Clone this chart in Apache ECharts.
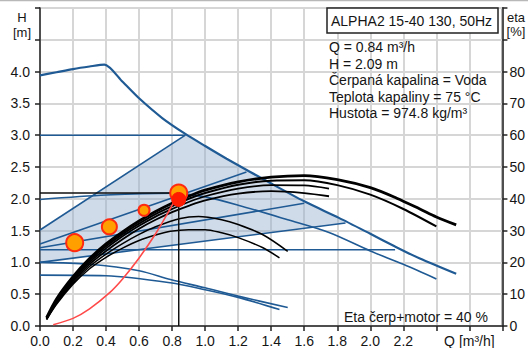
<!DOCTYPE html>
<html><head><meta charset="utf-8">
<style>html,body{margin:0;padding:0;background:#fff;overflow:hidden}#c{width:528px;height:348px}</style>
<script src="https://cdn.jsdelivr.net/npm/echarts@6/dist/echarts.min.js"></script>
</head><body><div id="c"></div>
<script>
// ---------- tick labels ----------
const xTickLabels = ['0.0','0.2','0.4','0.6','0.8','1.0','1.2','1.4','1.6','1.8','2.0','2.2','','Q [m³/h]',''];
const hTickLabels = ['0.0','0.5','1.0','1.5','2.0','2.5','3.0','3.5','4.0','',''];
const etaTickLabels = ['0','10','20','30','40','50','60','70','80','',''];

// ---------- texts ----------
const pumpTitle = 'ALPHA2 15-40 130, 50Hz';
const infoLines = ['Q = 0.84 m³/h','H = 2.09 m','Čerpaná kapalina = Voda','Teplota kapaliny = 75 °C','Hustota = 974.8 kg/m³'];
const etaNote = 'Eta čerp+motor = 40 %';

// ---------- pump curves (Q m3/h, H m) ----------
const maxCurve = [[0,3.94],[0.1,3.99],[0.2,4.04],[0.3,4.08],[0.39,4.11],[0.5,3.84],[0.6,3.58],[0.74,3.27],[0.88,3.02],[1.0,2.83],[1.13,2.63],[1.4,2.24],[1.6,1.96],[1.81,1.70],[2.0,1.45],[2.15,1.25],[2.3,1.06],[2.52,0.82]];
const curveII = [[0,1.99],[0.4,2.06],[0.8,2.09],[1.0,2.03],[1.2,1.9],[1.5,1.67],[1.75,1.47],[2.0,1.18],[2.2,0.97],[2.4,0.74]];
const curveIa = [[0,1.0],[0.3,0.97],[0.6,0.87],[0.79,0.73],[1.0,0.6],[1.2,0.47],[1.5,0.29]];
const curveIb = [[0,0.8],[0.4,0.79],[0.79,0.68],[1.0,0.57],[1.2,0.45],[1.45,0.26]];
const pp3 = [[0,1.51],[0.88,3.0]];
const cp3 = [[0,3.0],[0.88,3.0]];
const pp2 = [[0,1.29],[1.25,2.42]];
const pp1 = [[0,1.23],[1.6,1.93]];
const lowerLine = [[0,1.0],[1.85,1.62]];
const cp1 = [[0,1.2],[2.15,1.2]];
const systemCurve = [[0.08,0.02],[0.2,0.12],[0.3,0.27],[0.42,0.52],[0.5,0.74],[0.6,1.07],[0.7,1.45],[0.77,1.76],[0.84,2.09]];

// ---------- efficiency curves (Q m3/h, eta %) ----------
const etaIII = [[0.04,2.6],[0.1,8.5],[0.2,15.5],[0.3,21.2],[0.4,25.8],[0.5,29.6],[0.6,33],[0.7,36],[0.8,38.6],[0.9,40.8],[1.0,42.7],[1.2,45.3],[1.4,46.8],[1.6,47.3],[1.8,46],[2.0,43.5],[2.16,40.2],[2.3,36.8],[2.4,34.3],[2.52,31.8]];
const etaII = [[0.04,2.4],[0.1,8.1],[0.2,15],[0.3,20.6],[0.4,25.1],[0.5,28.9],[0.6,32.2],[0.7,35.2],[0.8,37.7],[0.9,40],[1.0,41.8],[1.2,44.4],[1.4,45.7],[1.6,45.8],[1.8,44.3],[2.0,41.3],[2.2,36.8],[2.4,31.3]];
const etaA = [[0.04,2.3],[0.1,7.8],[0.2,14.6],[0.3,20],[0.4,24.4],[0.5,28.2],[0.6,31.5],[0.7,34.4],[0.8,36.8],[0.9,39],[1.0,40.8],[1.2,43.2],[1.4,44.3],[1.6,44.2],[1.75,43.2]];
const etaB = [[0.04,2.2],[0.1,7.4],[0.2,14.1],[0.3,19.4],[0.4,23.6],[0.5,27.3],[0.6,30.6],[0.7,33.4],[0.8,35.8],[0.9,37.8],[1.0,39.5],[1.2,41.6],[1.4,42.4],[1.6,41.8],[1.75,40.8]];
const etaC = [[0.04,2.1],[0.1,7.1],[0.2,13.6],[0.3,18.7],[0.4,22.6],[0.5,25.9],[0.6,28.8],[0.7,31.2],[0.85,33.8],[0.96,34.4],[1.1,33.4],[1.2,31.9],[1.35,28.7],[1.5,23.5]];
const etaD = [[0.04,2.0],[0.1,6.8],[0.2,13.1],[0.3,18],[0.4,21.6],[0.5,24.5],[0.6,26.9],[0.7,28.6],[0.79,29.8],[0.9,30.3],[1.0,30.3],[1.1,29.3],[1.2,27.8],[1.35,24.6],[1.45,21.4]];

// ---------- duty point & markers ----------
const dutyQ = 0.84, dutyH = 2.09;
const dotPoints = [[0.21,1.31],[0.42,1.56],[0.63,1.82],[0.84,2.09]];
const redPoint = [[0.84,1.99]];

// ---------- styles ----------
const dotSizes = [17,15,11,17];
const BLUE = '#1f5a94';
const FONT = 'Liberation Sans, Arial, sans-serif';
const TXT = '#151515';

// shaded operating area polygon built from the curves above
const shadePolygon = [].concat(
  pp3,
  maxCurve.filter(p => p[0] > 0.88 && p[0] < 1.85),
  [lowerLine[1], lowerLine[0]]
);

function blueLine(data, w, smooth) {
  return {type:'line', data:data, showSymbol:false, smooth:smooth||0, silent:true, z:3,
    lineStyle:{color:BLUE, width:w||1.6}};
}
function etaLine(data, w) {
  return {type:'line', yAxisIndex:1, data:data, showSymbol:false, smooth:0.3, silent:true, z:4,
    lineStyle:{color:'#000', width:w||1.6}};
}

const chart = echarts.init(document.getElementById('c'), null, {renderer:'svg'});
chart.setOption({
  animation:false,
  backgroundColor:'#fff',
  grid:{left:40, right:25, top:8, bottom:20, show:true, borderColor:'#222', borderWidth:1.5, backgroundColor:'transparent'},
  xAxis:{type:'value', min:0, max:2.8, interval:0.2,
    axisLine:{lineStyle:{color:'#222', width:1.5}},
    axisTick:{show:true, length:5, lineStyle:{color:'#222', width:1.5}},
    splitLine:{show:true, lineStyle:{color:'#d6d6d6', width:2}},
    axisLabel:{margin:8, color:TXT, fontSize:14, fontFamily:FONT,
      formatter:(v)=>xTickLabels[Math.round(v/0.2)]||''}},
  yAxis:[
    {type:'value', min:0, max:5, interval:0.5,
      axisLine:{show:true, lineStyle:{color:'#222', width:1.5}},
      axisTick:{show:true, length:5, lineStyle:{color:'#222', width:1.5}},
      splitLine:{show:true, lineStyle:{color:'#d6d6d6', width:2}},
      axisLabel:{margin:10, color:TXT, fontSize:14, fontFamily:FONT,
        formatter:(v)=>hTickLabels[Math.round(v/0.5)]||''}},
    {type:'value', min:0, max:100, interval:10, position:'right',
      axisLine:{show:true, lineStyle:{color:'#222', width:1.5}},
      axisTick:{show:true, length:5, lineStyle:{color:'#222', width:1.5}},
      splitLine:{show:false},
      axisLabel:{margin:7, color:TXT, fontSize:14, fontFamily:FONT,
        formatter:(v)=>etaTickLabels[Math.round(v/10)]||''}}
  ],
  series:[
    {type:'custom', silent:true, z:1, data:[[0,0]],
      renderItem:(params, api)=>({type:'polygon',
        shape:{points:shadePolygon.map(p=>api.coord(p))},
        style:{fill:'rgba(150,176,206,0.45)'}})},
    blueLine(maxCurve, 2.2, 0.25),
    blueLine(cp3, 1.6),
    blueLine(pp3, 1.6),
    blueLine(pp2, 1.6),
    blueLine(pp1, 1.6),
    blueLine(lowerLine, 1.6),
    blueLine(cp1, 1.6),
    blueLine(curveII, 1.6, 0.3),
    blueLine(curveIa, 1.6, 0.3),
    blueLine(curveIb, 1.6, 0.3),
    etaLine(etaD, 1.5),
    etaLine(etaC, 1.5),
    etaLine(etaB, 1.8),
    etaLine(etaA, 1.8),
    etaLine(etaII, 2),
    etaLine(etaIII, 2.8),
    {type:'line', data:[[0,dutyH],[dutyQ,dutyH],[dutyQ,0]], showSymbol:false, silent:true, z:5,
      lineStyle:{color:'#111', width:1.5}},
    {type:'line', data:systemCurve, showSymbol:false, smooth:0.3, silent:true, z:5,
      lineStyle:{color:'#ff4a4a', width:1.6}},
    {type:'scatter', data:dotPoints, silent:true, z:6,
      symbolSize:(v, p)=>dotSizes[p.dataIndex],
      itemStyle:{color:'#ffa000', borderColor:'#ff2a10', borderWidth:2, opacity:1}},
    {type:'scatter', data:redPoint, silent:true, z:7, symbolSize:14,
      itemStyle:{color:'#ff1a00', borderColor:'#ff1a00', borderWidth:1, opacity:1}}
  ],
  graphic:[
    {type:'line', shape:{x1:0, y1:0.5, x2:528, y2:0.5}, style:{stroke:'#b8b8b8', lineWidth:1.5}, silent:true},
    {type:'rect', shape:{x:327, y:8, width:171, height:25}, style:{fill:'#fff', stroke:'#222', lineWidth:1.5}, z:100, silent:true},
    {type:'text', x:331, y:21, style:{text:pumpTitle, font:'14px '+FONT, fill:TXT, textVerticalAlign:'middle'}, z:101, silent:true},
    ...infoLines.map((t,i)=>({type:'text', x:329, y:47+i*16.5, style:{text:t, font:'14px '+FONT, fill:TXT, textVerticalAlign:'middle'}, z:101, silent:true})),
    {type:'text', x:344, y:317, style:{text:etaNote, font:'14px '+FONT, fill:TXT, textVerticalAlign:'middle'}, z:101, silent:true},
    {type:'text', x:22, y:10, style:{text:'H\n[m]', font:'13px '+FONT, fill:TXT, textAlign:'center', lineHeight:15}, silent:true},
    {type:'text', x:516, y:10, style:{text:'eta\n[%]', font:'13px '+FONT, fill:TXT, textAlign:'center', lineHeight:14}, silent:true}
  ]
});
</script>
</body></html>
